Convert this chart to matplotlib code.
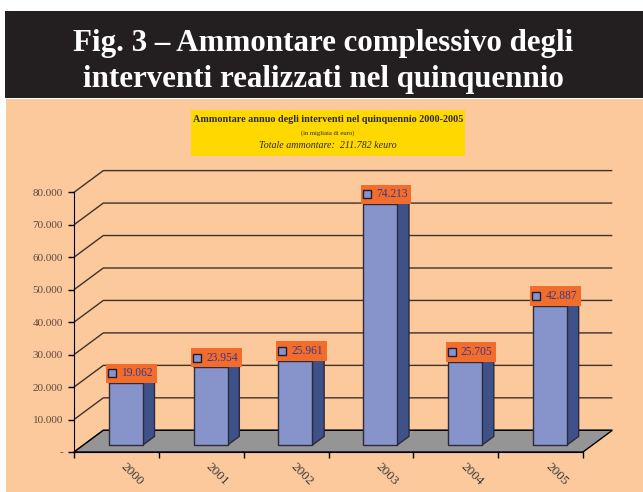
import numpy as np
import matplotlib
matplotlib.use('Agg')
import matplotlib.pyplot as plt
from matplotlib.patches import Rectangle, Polygon
from matplotlib.transforms import offset_copy

# data
years = ['2000', '2001', '2002', '2003', '2004', '2005']
values = [19062, 23954, 25961, 74213, 25705, 42887]
y_ticks = [0, 10000, 20000, 30000, 40000, 50000, 60000, 70000, 80000]

# colours
header_bg = '#231f20'
page_bg = '#fcc99c'
yellow = '#ffd800'
bar_front = '#8794cb'
bar_side = '#3f5189'
bar_edge = '#2b2b3b'
floor_col = '#959595'
label_bg = '#f26c2c'
label_txt = '#3a3a8a'
grid_col = '#3e3229'
serif = 'Liberation Serif'

W, H = 643, 492
fig = plt.figure(figsize=(W / 100, H / 100), dpi=100)
fig.patch.set_facecolor('white')


def fy(px):
    return (H - px) / H


# page background + dark header band
fig.add_artist(Rectangle((6 / W, 0), 1, fy(99), transform=fig.transFigure,
                         facecolor=page_bg, edgecolor='none', zorder=0))
fig.add_artist(Rectangle((5 / W, fy(98)), 1, 87 / H, transform=fig.transFigure,
                         facecolor=header_bg, edgecolor='none', zorder=0))
fig.text(0.503, fy(51), 'Fig. 3 – Ammontare complessivo degli', ha='center', va='baseline',
         color='white', fontsize=22.3, fontweight='bold', family=serif)
fig.text(0.503, fy(86.5), 'interventi realizzati nel quinquennio', ha='center', va='baseline',
         color='white', fontsize=22.3, fontweight='bold', family=serif)

# yellow caption box
fig.add_artist(Rectangle((191 / W, fy(155.5)), 274 / W, 45.5 / H, transform=fig.transFigure,
                         facecolor=yellow, edgecolor='none', zorder=1))
fig.text(328 / W, fy(119), 'Ammontare annuo degli interventi nel quinquennio 2000-2005',
         ha='center', va='center', fontsize=7.3, fontweight='bold', color='#2b2b3b', family=serif)
fig.text(328 / W, fy(133), '(in migliaia di euro)', ha='center', va='center',
         fontsize=4.8, color='#2b2b3b', family=serif)
fig.text(328 / W, fy(145), 'Totale ammontare:  211.782 keuro', ha='center', va='center',
         fontsize=7.2, style='italic', color='#2b2b3b', family=serif)

# chart axes (front plane)
ax = fig.add_axes([74 / W, fy(452), 509 / W, 259.7 / H])
ax.set_facecolor('none')
n = len(years)
ax.set_xlim(0, n)
ax.set_ylim(0, 80000)

# depth offsets of the pseudo-3D box
DX = 29.3 / 84.8
DY = 21.7 / 259.7 * 80000
f0, f1 = 0.32, 0.72
bw = 0.40

# back wall and side wall gridlines
for v in y_ticks:
    ax.plot([0, DX, n + DX], [v, v + DY, v + DY], color=grid_col, lw=1,
            clip_on=False, zorder=1, solid_capstyle='butt')

# floor
ax.add_patch(Polygon([(0, 0), (DX, DY), (n + DX, DY), (n, 0)], closed=True,
                     facecolor=floor_col, edgecolor='black', lw=1, clip_on=False, zorder=2))

for i, (yr, v) in enumerate(zip(years, values)):
    x0 = i + 0.5 - bw / 2 + f0 * DX
    x1 = x0 + bw
    b0 = f0 * DY
    ddx = (f1 - f0) * DX
    ddy = (f1 - f0) * DY
    # side face
    ax.add_patch(Polygon([(x1, b0), (x1 + ddx, b0 + ddy), (x1 + ddx, b0 + ddy + v), (x1, b0 + v)],
                         closed=True, facecolor=bar_side, edgecolor=bar_edge, lw=1,
                         clip_on=False, zorder=3))
    # top face
    ax.add_patch(Polygon([(x0, b0 + v), (x1, b0 + v), (x1 + ddx, b0 + ddy + v), (x0 + ddx, b0 + ddy + v)],
                         closed=True, facecolor=bar_front, edgecolor=bar_edge, lw=1,
                         clip_on=False, zorder=3))
    # front face
    ax.add_patch(Rectangle((x0, b0), bw, v, facecolor=bar_front, edgecolor=bar_edge, lw=1,
                           clip_on=False, zorder=4))

    # value label box
    pad = 2.5 / 84.8
    lx0 = x0 - pad
    lx1 = x1 + ddx + pad
    lh = 19.5 / 259.7 * 80000
    ax.add_patch(Rectangle((lx0, b0 + v), lx1 - lx0, lh, facecolor=label_bg, edgecolor='none',
                           clip_on=False, zorder=5))
    ymid = b0 + v + lh / 2
    ax.plot([lx0 + 6 / 84.8], [ymid], marker='s', ms=5.5, mfc=bar_front, mec='#1e1e2e',
            mew=1, clip_on=False, zorder=6)
    ax.text(lx0 + 15 / 84.8, ymid, f'{v / 1000:.3f}', ha='left', va='center',
            fontsize=8.3, color=label_txt, family=serif, zorder=6)

    # rotated year label
    tr = offset_copy(ax.transData, fig=fig, x=16, y=-22, units='dots')
    ax.text(i + 0.5, 0, yr, transform=tr, rotation=-45, ha='center', va='center',
            fontsize=9.5, color='#3a3a3a', family=serif)

# axes styling
for s in ['top', 'right']:
    ax.spines[s].set_visible(False)
ax.spines['left'].set_color('black')
ax.spines['bottom'].set_color('black')
ax.spines['left'].set_zorder(7)
ax.set_xticks(range(n + 1))
ax.set_xticklabels([])
ax.set_yticks(y_ticks)
ax.set_yticklabels(['-' if t == 0 else f'{t:,}'.replace(',', '.') for t in y_ticks],
                   family=serif, fontsize=8, color='#5b4a3f')
ax.tick_params(axis='y', direction='out', length=4, width=1, color='black', pad=4)
ax.tick_params(axis='x', direction='out', length=4, width=1, color='black')

fig.savefig('out.png', dpi=100, facecolor=fig.get_facecolor())
